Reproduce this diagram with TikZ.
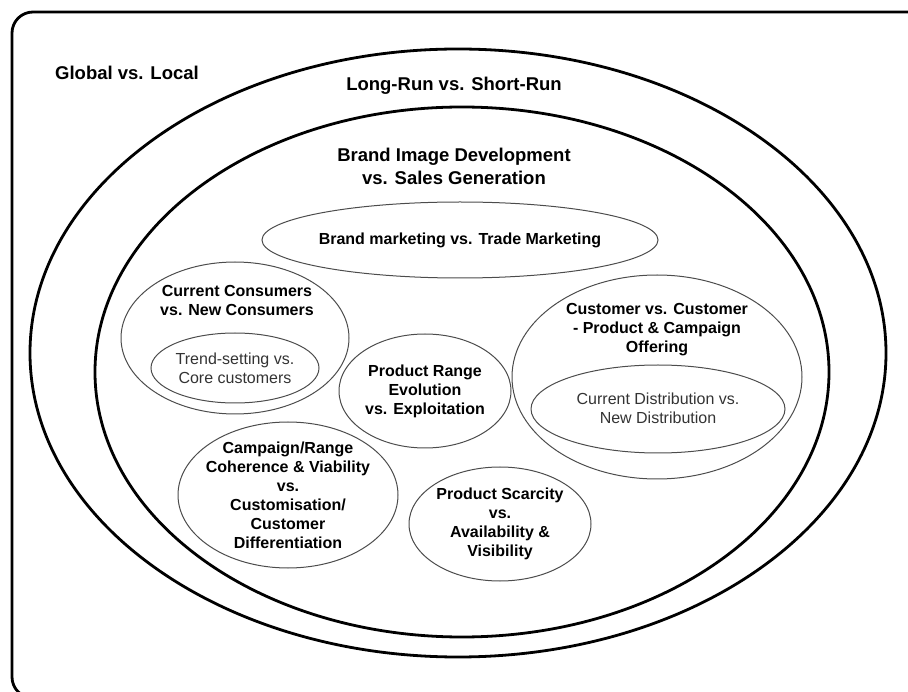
\documentclass[tikz,border=0pt]{standalone}
\usepackage{fontspec}
\setmainfont{Liberation Sans}
\begin{document}
\begin{tikzpicture}[x=1pt, y=-1pt,
    ring/.style={line width=2.8pt},
    bubble/.style={draw=black!70, line width=1pt},
    big/.style={font=\fontsize{18.5}{23}\selectfont\bfseries, align=center, inner sep=0pt},
    small/.style={font=\fontsize{16}{19}\selectfont\bfseries, align=center, inner sep=0pt},
    plain/.style={font=\fontsize{16}{19}\selectfont, align=center, text=black!80, inner sep=0pt}]
        \useasboundingbox (0,0) rectangle (908,692);

        \coordinate (LR) at (458,353);
        \coordinate (BI) at (462,372);

        \coordinate (BM) at (460,240);
        \coordinate (CC) at (235,338);
        \coordinate (TS) at (235,368);
        \coordinate (PR) at (425,391);
        \coordinate (CR) at (288,495);
        \coordinate (PS) at (500,524);
        \coordinate (CU) at (657,377);
        \coordinate (CD) at (658,409);

        \draw[ring, rounded corners=21pt] (12,12) rectangle (940,698);

        \draw[ring] (LR) ellipse (428pt and 304pt);
        \draw[ring] (BI) ellipse (367pt and 265pt);

        \draw[bubble] (BM) ellipse (198pt and 38pt);
        \draw[bubble] (CC) ellipse (114pt and 76pt);
        \draw[bubble] (TS) ellipse (84pt and 35pt);
        \draw[bubble] (PR) ellipse (86pt and 57pt);
        \draw[bubble] (CR) ellipse (110pt and 73pt);
        \draw[bubble] (PS) ellipse (91pt and 57pt);
        \draw[bubble] (CU) ellipse (145pt and 102pt);
        \draw[bubble] (CD) ellipse (127pt and 44pt);

        \node[big, anchor=west] (global) at (55,73) {Global vs. Local};
        \node[big] (longrun) at (454,86) {Long-Run vs. Short-Run};
        \node[big] (brandimage) at (454,166) {Brand Image Development\\vs. Sales Generation};

        \node[small] (brandmkt) at (BM) {Brand marketing vs. Trade Marketing};
        \node[small] (consumers) at (237,300) {Current Consumers\\vs. New Consumers};
        \node[plain] (trend) at (235,368) {Trend-setting vs.\\Core customers};
        \node[small] (range) at (PR) {Product Range\\Evolution\\vs. Exploitation};
        \node[small] (coherence) at (288,495) {Campaign/Range\\Coherence \& Viability\\vs.\\Customisation/\\Customer\\Differentiation};
        \node[small] (scarcity) at (PS) {Product Scarcity\\vs.\\Availability \&\\Visibility};
        \node[small] (customer) at (657,330) {Customer vs. Customer\\- Product \& Campaign\\Offering};
        \node[plain] (distrib) at (658,408) {Current Distribution vs.\\New Distribution};
\end{tikzpicture}
\end{document}
